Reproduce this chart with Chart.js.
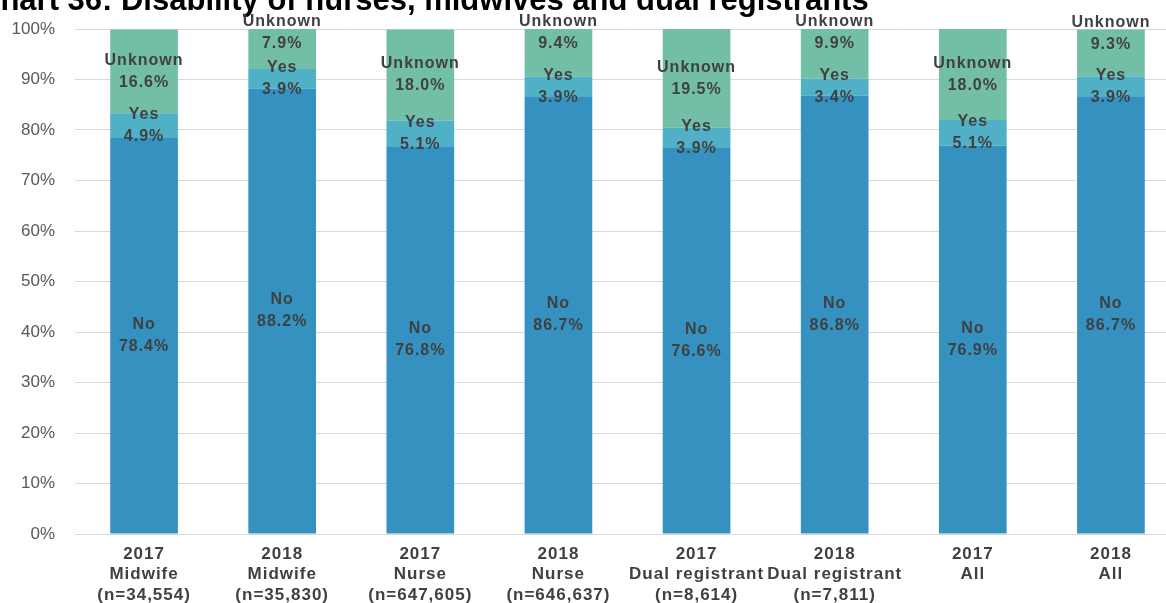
<!DOCTYPE html>
<html>
<head>
<meta charset="utf-8">
<script src="https://cdn.jsdelivr.net/npm/chart.js@4"></script>
<style>
  html, body { margin: 0; padding: 0; background: #ffffff; overflow: hidden; width: 1166px; height: 603px; }
  #wrap { position: absolute; left: -22px; top: -14px; width: 1203px; height: 618px; }
</style>
</head>
<body>
<div id="wrap"><canvas id="c"></canvas></div>
<script>
const years = ['2017', '2018', '2017', '2018', '2017', '2018', '2017', '2018'];
const groups = ['Midwife', 'Midwife', 'Nurse', 'Nurse', 'Dual registrant', 'Dual registrant', 'All', 'All'];
const sizes = ['(n=34,554)', '(n=35,830)', '(n=647,605)', '(n=646,637)', '(n=8,614)', '(n=7,811)', '', ''];
const noValues = [78.4, 88.2, 76.8, 86.7, 76.6, 86.8, 76.9, 86.7];
const yesValues = [4.9, 3.9, 5.1, 3.9, 3.9, 3.4, 5.1, 3.9];
const unknownValues = [16.6, 7.9, 18.0, 9.4, 19.5, 9.9, 18.0, 9.3];
const yTicks = [0, 10, 20, 30, 40, 50, 60, 70, 80, 90, 100];

const labels = years.map((y, i) => {
  const l = [y, groups[i]];
  if (sizes[i]) l.push(sizes[i]);
  return l;
});

const FONT = "'Liberation Sans', Arial, sans-serif";

// Letter-spaced category labels (Excel-like rendering)
const CatScale = Chart.registry.getScale('category');
const origDrawLabels = CatScale.prototype.drawLabels;
CatScale.prototype.drawLabels = function (area) {
  const c = this.ctx;
  const prev = c.letterSpacing;
  c.letterSpacing = '1px';
  origDrawLabels.call(this, area);
  c.letterSpacing = prev || '0px';
};

const segLabels = {
  id: 'segLabels',
  afterDatasetsDraw(chart) {
    const ctx = chart.ctx;
    ctx.save();
    ctx.font = 'bold 16px ' + FONT;
    ctx.letterSpacing = '1px';
    ctx.fillStyle = '#404040';
    ctx.textAlign = 'center';
    ctx.textBaseline = 'middle';
    const lh = 22;
    chart.data.datasets.forEach((ds, di) => {
      const meta = chart.getDatasetMeta(di);
      meta.data.forEach((bar, i) => {
        const v = ds.data[i];
        const lines = [ds.label, v.toFixed(1) + '%'];
        let top;
        if (ds.label === 'Unknown' && v < 12) {
          // short top segment: value just inside the bar top, name above the bar
          top = Math.min(bar.y, bar.base) + 15 - lh;
        } else {
          const cy = (bar.y + bar.base) / 2;
          top = cy - lh * (lines.length - 1) / 2;
        }
        lines.forEach((t, k) => ctx.fillText(t, bar.x, top + k * lh));
      });
    });
    ctx.restore();
  }
};

new Chart(document.getElementById('c'), {
  type: 'bar',
  data: {
    labels: labels,
    datasets: [
      { label: 'No', data: noValues, backgroundColor: '#3592c0' },
      { label: 'Yes', data: yesValues, backgroundColor: '#4fb0c6' },
      { label: 'Unknown', data: unknownValues, backgroundColor: '#72bea6' }
    ]
  },
  options: {
    responsive: true,
    maintainAspectRatio: false,
    animation: false,
    layout: { padding: { left: 0, right: 1, top: 0, bottom: 0 } },
    datasets: { bar: { categoryPercentage: 1, barPercentage: 0.49, borderWidth: 0 } },
    plugins: {
      legend: { display: false },
      tooltip: { enabled: false },
      title: {
        display: true,
        text: 'Chart 36: Disability of nurses, midwives and dual registrants',
        align: 'start',
        color: '#000000',
        font: { family: FONT, size: 31, weight: 'bold', lineHeight: 1.0 },
        padding: { top: 0, bottom: 12 }
      }
    },
    scales: {
      x: {
        stacked: true,
        grid: { display: false, drawTicks: false },
        border: { display: false },
        ticks: {
          color: '#404040',
          font: { family: FONT, size: 17, weight: 'bold', lineHeight: 1.2 },
          padding: 10,
          maxRotation: 0,
          autoSkip: false
        },
        afterFit(s) { s.height = 70; }
      },
      y: {
        stacked: true,
        min: 0,
        max: 100,
        afterBuildTicks(s) { s.ticks = yTicks.map(v => ({ value: v })); },
        grid: { color: '#d9d9d9', lineWidth: 1, drawTicks: false },
        border: { display: false },
        ticks: {
          color: '#595959',
          font: { family: FONT, size: 17 },
          padding: 20,
          callback: v => v + '%'
        },
        afterFit(s) { s.width = 97; }
      }
    }
  },
  plugins: [segLabels]
});
</script>
</body>
</html>
